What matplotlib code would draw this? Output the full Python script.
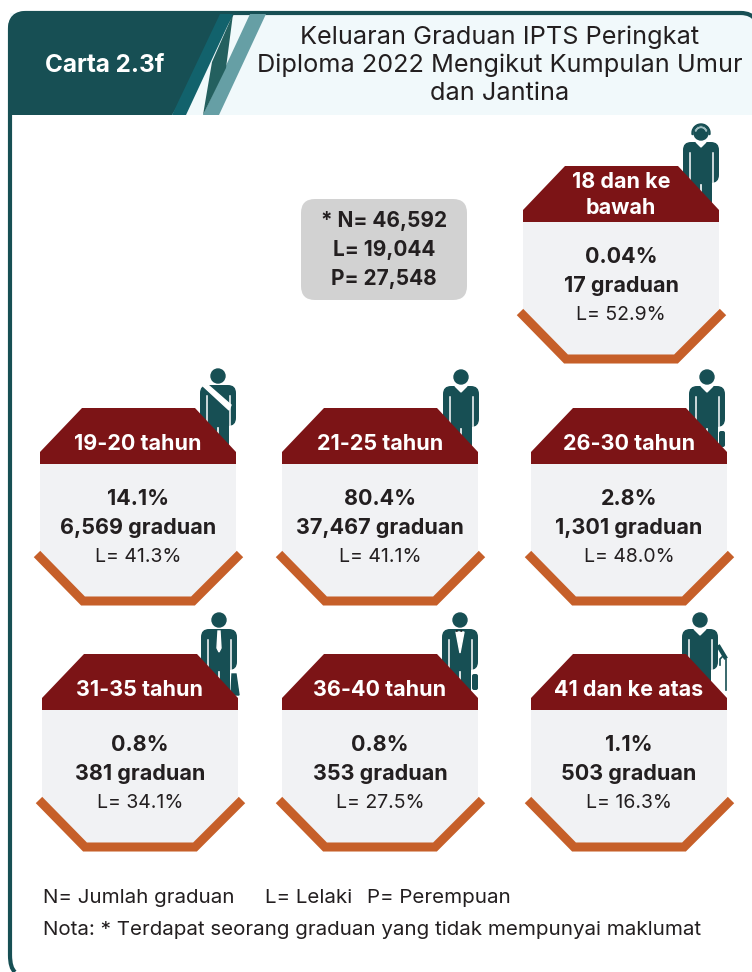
"""Carta 2.3f: graduates by age group, drawn as house shaped cards."""
import matplotlib.pyplot as plt
from matplotlib.patches import Circle, FancyBboxPatch, PathPatch, Polygon, Rectangle, Wedge
from matplotlib.path import Path

TEAL = "#174f54"
RED = "#7c1416"
ORANGE = "#c65f29"
CARD = "#f1f2f4"
INK = "#231f20"

age_groups = ["18 dan ke\nbawah", "19-20 tahun", "21-25 tahun", "26-30 tahun",
              "31-35 tahun", "36-40 tahun", "41 dan ke atas"]
share_pct = ["0.04%", "14.1%", "80.4%", "2.8%", "0.8%", "0.8%", "1.1%"]
graduates = ["17", "6,569", "37,467", "1,301", "381", "353", "503"]
male_pct = ["52.9%", "41.3%", "41.1%", "48.0%", "34.1%", "27.5%", "16.3%"]
person_styles = ["headset", "sash", "plain", "bag", "tie", "bowtie", "cane"]

card_left = [523, 40, 282, 531, 42, 282, 531]
card_top = [166, 408, 408, 408, 654, 654, 654]
head_pos = [(701, 133), (218, 376), (461, 377), (707, 377), (219, 620), (460, 620), (700, 620)]

title_lines = ["Keluaran Graduan IPTS Peringkat", "Diploma 2022 Mengikut Kumpulan Umur", "dan Jantina"]
total_lines = ["* N= 46,592", "L= 19,044", "P= 27,548"]

plt.rcParams["font.family"] = ["Inter", "DejaVu Sans"]


def draw_person(ax, hx, hy, style):
    """Small pictogram standing behind the roof of a card."""
    z = 3
    ax.add_patch(Circle((hx, hy), 7, color=TEAL, zorder=z))
    ax.add_patch(FancyBboxPatch((hx - 13, hy + 14), 26, 31, boxstyle="round,pad=5,rounding_size=8",
                                fc=TEAL, ec="none", zorder=z))
    ax.add_patch(Rectangle((hx - 11, hy + 40), 22, 40, fc=TEAL, ec="none", zorder=z))
    # white gaps between arms and body, then between the legs
    for side in (-1, 1):
        ax.plot([hx + side * 11.5] * 2, [hy + 20, hy + 52], color="white", lw=1.1, zorder=z)
    ax.plot([hx, hx], [hy + 52, hy + 75], color="white", lw=1.2, zorder=z)

    if style == "headset":
        ax.add_patch(Wedge((hx, hy), 9, 170, 370, width=1.0, color=TEAL, zorder=z))
        ax.add_patch(Wedge((hx, hy), 6, 200, 340, width=0.5, color="#9dbcbf", zorder=z + 0.1))
        ax.add_patch(Polygon([(hx - 5, hy + 9), (hx + 5, hy + 9), (hx, hy + 14)], color="white", zorder=z))
    elif style == "sash":
        ax.add_patch(Polygon([(hx - 15, hy + 10), (hx - 10, hy + 9), (hx + 13, hy + 29), (hx + 11, hy + 34)],
                             color="white", zorder=z))
    elif style == "tie":
        ax.add_patch(Polygon([(hx - 1, hy + 11), (hx + 1, hy + 11), (hx + 2, hy + 28), (hx, hy + 32), (hx - 2, hy + 28)],
                             color="white", zorder=z))
    elif style == "bowtie":
        ax.add_patch(Polygon([(hx - 4, hy + 12), (hx + 4, hy + 12), (hx, hy + 33)], color="white", zorder=z))
        ax.plot([hx - 4, hx + 4], [hy + 11, hy + 11], color=INK, lw=1.2, ls=":", zorder=z)
    elif style in ("cane", "plain", "bag"):
        ax.add_patch(Polygon([(hx - 6, hy + 9), (hx + 6, hy + 9), (hx, hy + 15)], color="white", zorder=z))

    if style == "cane":
        ax.plot([hx + 19, hx + 25], [hy + 27, hy + 37], color=TEAL, lw=3, zorder=z)
        ax.plot([hx + 20, hx + 20, hx + 23, hx + 26, hx + 26], [hy + 45, hy + 39, hy + 36, hy + 39, hy + 70],
                color=TEAL, lw=1.2, zorder=z)

    if style in ("bag", "bowtie"):
        ax.add_patch(FancyBboxPatch((hx + 13, hy + 55), 4, 14, boxstyle="round,pad=1,rounding_size=2",
                                    fc=TEAL, ec="none", zorder=z))
    elif style == "tie":
        ax.add_patch(Polygon([(hx + 13, hy + 54), (hx + 17, hy + 54), (hx + 20, hy + 75), (hx + 12, hy + 75)],
                             color=TEAL, zorder=z))


def draw_card(ax, left, top, label, share, count, male):
    """One house shaped card: body, roof, base line and its four text lines."""
    right = left + 196
    ax.add_patch(Polygon([(left, top + 50), (right, top + 50), (right, top + 143), (right - 45, top + 190),
                          (left + 45, top + 190), (left, top + 143)], fc=CARD, ec="none", zorder=2))
    ax.add_patch(Polygon([(left + 42, top), (right - 41, top), (right, top + 44), (right, top + 56),
                          (left, top + 56), (left, top + 44)], fc=RED, ec="none", zorder=4))
    ax.plot([left - 3, left + 43, right - 43, right + 4], [top + 146, top + 193, top + 193, top + 146],
            color=ORANGE, lw=6.5, solid_joinstyle="miter", solid_capstyle="butt", zorder=5)

    cx = left + 98
    if "\n" in label:
        for offset, part in zip((16, 42), label.split("\n")):
            ax.text(cx, top + offset, part, color="white", fontsize=15.5, fontweight="bold",
                    ha="center", va="center", zorder=6)
    else:
        ax.text(cx, top + 36, label, color="white", fontsize=15.5, fontweight="bold",
                ha="center", va="center", zorder=6)
    ax.text(cx, top + 91, share, color=INK, fontsize=15.5, fontweight="bold", ha="center", va="center", zorder=6)
    ax.text(cx, top + 120, f"{count} graduan", color=INK, fontsize=15.5, fontweight="bold",
            ha="center", va="center", zorder=6)
    ax.text(cx, top + 149, f"L= {male}", color=INK, fontsize=14, ha="center", va="center", zorder=6)


def draw_frame(ax):
    """Outer border, open at the bottom because the picture cuts it off there."""
    verts = [(15, 972), (10, 968), (10, 955), (10, 29), (10, 13), (26, 13), (741, 13), (751, 13), (756, 20)]
    codes = [Path.MOVETO, Path.CURVE3, Path.CURVE3, Path.LINETO, Path.CURVE3, Path.CURVE3,
             Path.LINETO, Path.CURVE3, Path.CURVE3]
    ax.add_patch(PathPatch(Path(verts, codes), fc="none", ec=TEAL, lw=3, capstyle="butt", zorder=1.5))


def draw_header(ax):
    """Rounded dark tab, slanted strips and the light title band."""
    ax.add_patch(Rectangle((10, 13), 760, 102, fc="#f1f9fb", ec="none", zorder=1))
    verts = [(8, 115), (8, 30), (8, 11), (28, 11), (236, 11), (172, 115), (8, 115)]
    codes = [Path.MOVETO, Path.LINETO, Path.CURVE3, Path.CURVE3, Path.LINETO, Path.LINETO, Path.CLOSEPOLY]
    ax.add_patch(PathPatch(Path(verts, codes), fc=TEAL, ec="none", zorder=2))
    ax.add_patch(Polygon([(220, 14), (233, 14), (186, 115), (172, 115)], fc="#12626c", ec="none", zorder=2.1))
    ax.add_patch(Polygon([(250, 14), (266, 14), (219, 115), (203, 115)], fc="#669fa5", ec="none", zorder=2.1))
    ax.add_patch(Polygon([(233, 14), (212, 62), (203, 115), (226, 68)], fc="#24605f", ec="none", zorder=2.2))


def main():
    fig = plt.figure(figsize=(7.52, 9.72), dpi=100)
    ax = fig.add_axes([0, 0, 1, 1])
    ax.set_xlim(0, 752)
    ax.set_ylim(972, 0)
    ax.axis("off")

    draw_header(ax)
    draw_frame(ax)

    ax.text(105, 65, "Carta 2.3f", color="white", fontsize=17.5, fontweight="bold", ha="center", va="center", zorder=6)
    for y, line in zip((37, 65, 94), title_lines):
        ax.text(500, y, line, color=INK, fontsize=18.2, ha="center", va="center", zorder=6)

    ax.add_patch(FancyBboxPatch((301, 199), 166, 101, boxstyle="round,pad=0,rounding_size=14",
                                fc="#d2d2d2", ec="none", zorder=2))
    for y, line in zip((221, 250, 279), total_lines):
        ax.text(384, y, line, color=INK, fontsize=15, fontweight="bold", ha="center", va="center", zorder=6)

    for i, label in enumerate(age_groups):
        draw_person(ax, head_pos[i][0], head_pos[i][1], person_styles[i])
        draw_card(ax, card_left[i], card_top[i], label, share_pct[i], graduates[i], male_pct[i])

    for x, note in zip((43, 265, 367), ("N= Jumlah graduan", "L= Lelaki", "P= Perempuan")):
        ax.text(x, 898, note, color=INK, fontsize=14.8, ha="left", va="center")
    ax.text(43, 930, "Nota: * Terdapat seorang graduan yang tidak mempunyai maklumat",
            color=INK, fontsize=14.8, ha="left", va="center")

    fig.savefig("out.png", dpi=100)


main()
